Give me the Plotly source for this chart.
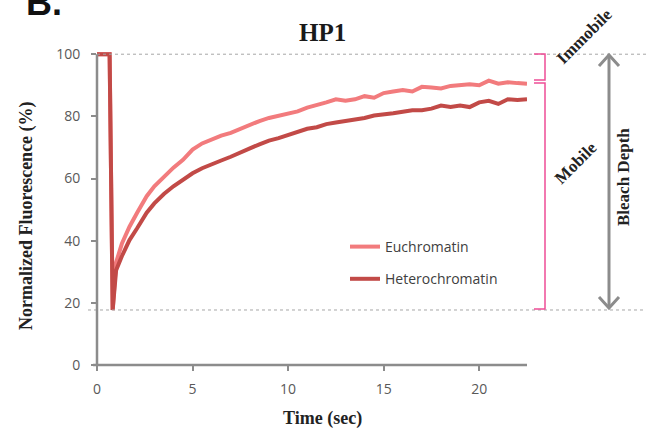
import plotly.graph_objects as go

# ---- data ----
time_sec = [0, 0.66, 0.82, 1.0, 1.3, 1.7, 2.1, 2.6, 3.0, 3.5, 4.0, 4.5, 5.0, 5.5, 6.0, 6.5,
            7.0, 7.5, 8.0, 8.5, 9.0, 9.5, 10.0, 10.5, 11.0, 11.5, 12.0, 12.5, 13.0, 13.5,
            14.0, 14.5, 15.0, 15.5, 16.0, 16.5, 17.0, 17.5, 18.0, 18.5, 19.0, 19.5, 20.0,
            20.5, 21.0, 21.5, 22.0, 22.5]
euchromatin = [100, 100, 17.7, 33, 39, 44.5, 49, 54.3, 57.5, 60.7, 63.5, 66, 69.3, 71.3, 72.7, 73.8,
               74.7, 76, 77.3, 78.5, 79.5, 80.2, 80.8, 81.6, 82.8, 83.5, 84.5, 85.5, 85, 85.5,
               86.5, 86, 87.5, 88, 88.5, 88, 89.5, 89.3, 89, 89.8, 90, 90.3, 90,
               91.5, 90.5, 91, 90.7, 90.5]
heterochromatin = [100, 100, 17.7, 30.5, 35, 40.2, 44, 49, 52, 55, 57.5, 59.5, 61.7, 63.3, 64.7, 65.8,
                   67, 68.5, 69.7, 71, 72.2, 73, 74, 75.2, 76, 76.5, 77.5, 78, 78.5, 78.8,
                   79.5, 80.3, 80.5, 81, 81.5, 82, 82, 82.5, 83.5, 83, 83.5, 83, 84.5,
                   85, 84, 85.5, 85.3, 85.5]
x_ticks = [0, 5, 10, 15, 20]
y_ticks = [0, 20, 40, 60, 80, 100]
bleach_min = 17.7
plateau = 100

Y_MAX = 102.0

fig = go.Figure()
fig.add_trace(go.Scatter(x=time_sec, y=euchromatin, mode="lines", name="Euchromatin",
                         line=dict(color="#F27B7D", width=4), legendgroup="a"))
fig.add_trace(go.Scatter(x=time_sec, y=heterochromatin, mode="lines", name="Heterochromatin",
                         line=dict(color="#C24A47", width=4), legendgroup="b"))

def yp(v):
    return v / Y_MAX

def pxx(px):
    return (px - 97) / 430.0

def pyy(py):
    return (365 - py) / 317.0

shapes = []
# dotted reference lines
for v, x0 in [(plateau, 0), (bleach_min, pxx(88))]:
    shapes.append(dict(type="line", xref="paper", yref="paper", x0=x0, x1=pxx(646),
                       y0=yp(v), y1=yp(v), line=dict(color="#A6A6A6", width=1, dash="dot")))
# axis lines
shapes.append(dict(type="line", xref="paper", yref="paper", x0=0, x1=0, y0=0, y1=yp(100),
                   line=dict(color="#8C8C8C", width=2.5)))
shapes.append(dict(type="line", xref="paper", yref="paper", x0=pxx(93), x1=1, y0=0, y1=0,
                   line=dict(color="#8C8C8C", width=2.5)))
# pink brackets
pink = "#EE4E97"
xb, xl = pxx(545), pxx(534)
for top, bot in [(pyy(54), pyy(80)), (pyy(83), pyy(309))]:
    shapes.append(dict(type="path", xref="paper", yref="paper",
                       path=f"M {xl} {top} L {xb} {top} L {xb} {bot} L {xl} {bot}",
                       line=dict(color=pink, width=1.5)))
# grey double arrow
xa = pxx(609)
ytop, ybot = pyy(55), pyy(308)
dx, dy = 10 / 430.0, 11 / 317.0
grey = "#8C8C8C"
shapes.append(dict(type="line", xref="paper", yref="paper", x0=xa, x1=xa, y0=ytop, y1=ybot,
                   line=dict(color=grey, width=3)))
shapes.append(dict(type="path", xref="paper", yref="paper",
                   path=f"M {xa-dx} {ytop-dy} L {xa} {ytop} L {xa+dx} {ytop-dy}",
                   line=dict(color=grey, width=3)))
shapes.append(dict(type="path", xref="paper", yref="paper",
                   path=f"M {xa-dx} {ybot+dy} L {xa} {ybot} L {xa+dx} {ybot+dy}",
                   line=dict(color=grey, width=3)))

serif = "Liberation Serif"
ann = [
    dict(text="<b>HP1</b>", x=pxx(322), y=pyy(32), font=dict(family=serif, size=25, color="#1a1a1a")),
    dict(text="<b>Normalized Fluorescence (%)</b>", x=pxx(26), y=pyy(216), textangle=-90,
         font=dict(family=serif, size=18, color="#222")),
    dict(text="<b>Time (sec)</b>", x=pxx(322), y=pyy(418), font=dict(family=serif, size=18, color="#222")),
    dict(text="<b>Immobile</b>", x=pxx(584), y=pyy(36), textangle=-45,
         font=dict(family=serif, size=17, color="#222")),
    dict(text="<b>Mobile</b>", x=pxx(575), y=pyy(163), textangle=-45,
         font=dict(family=serif, size=17, color="#222")),
    dict(text="<b>Bleach Depth</b>", x=pxx(623), y=pyy(177), textangle=-90,
         font=dict(family=serif, size=17, color="#222")),
    dict(text="<b>B.</b>", x=pxx(24), y=pyy(2), xanchor="left", yanchor="middle",
         font=dict(family="Liberation Sans", size=36, color="#111")),
]
for a in ann:
    a.setdefault("xanchor", "center")
    a.setdefault("yanchor", "middle")
    a.update(xref="paper", yref="paper", showarrow=False)

tickfont = dict(family="Open Sans", size=14, color="#595959")
fig.update_layout(
    width=646, height=434,
    margin=dict(l=97, r=119, t=48, b=69),
    paper_bgcolor="white", plot_bgcolor="white",
    showlegend=True,
    legend=dict(x=pxx(345), y=pyy(231), xanchor="left", yanchor="top",
                font=dict(family="Open Sans", size=14, color="#404040"),
                bgcolor="rgba(0,0,0,0)", tracegroupgap=11),
    xaxis=dict(range=[0, 22.5], tickvals=x_ticks, showgrid=False, zeroline=False,
               showline=False, ticks="outside", ticklen=5, tickwidth=2, tickcolor="#8C8C8C",
               tickfont=tickfont, ticklabelstandoff=6),
    yaxis=dict(range=[0, Y_MAX], tickvals=y_ticks, showgrid=False, zeroline=False,
               showline=False, ticks="outside", ticklen=5, tickwidth=2, tickcolor="#8C8C8C",
               tickfont=tickfont, ticklabelstandoff=8),
    shapes=shapes,
    annotations=ann,
)
fig.write_html("out.html")
